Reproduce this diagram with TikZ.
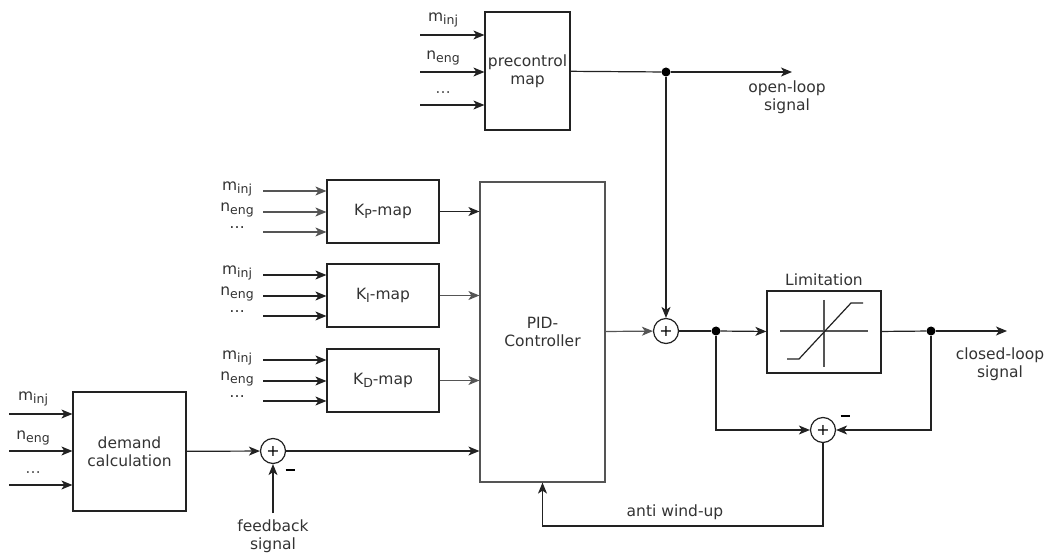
\documentclass[tikz,border=0pt]{standalone}
\usepackage{fontspec}
\setmainfont{DejaVu Sans}
\usetikzlibrary{arrows.meta}
\definecolor{linec}{HTML}{222222}
\definecolor{greyc}{HTML}{555555}
\definecolor{txtc}{HTML}{333333}
\newcommand{\lowsub}[1]{\raisebox{-0.35ex}{\fontsize{12.5}{12.5}\selectfont #1}}

\begin{document}
\begin{tikzpicture}[x=1pt,y=-1pt,
    font=\fontsize{15.5}{18.5}\selectfont,
    blk/.style={draw=linec, line width=1.2pt, align=center, text=txtc,
      inner sep=0pt},
    sum/.style={circle, draw=linec, line width=1.2pt, minimum size=25pt,
      inner sep=0pt, font=\fontsize{16}{16}\selectfont},
    dot/.style={circle, fill=black, minimum size=9pt, inner sep=0pt},
    lbl/.style={text=txtc, align=center, inner sep=1pt},
    sgn/.style={inner sep=0pt},
    ln/.style={draw=linec, line width=1.2pt},
    arr/.style={ln, -{Stealth[length=11pt,width=9pt,inset=3pt]}}]
    \useasboundingbox[fill=white] (0,0) rectangle (1047,553);
    % precontrol map
    \node[blk, minimum width=85pt, minimum height=118pt] (pre) at
    (527.5,71) {precontrol\\map}; \coordinate (p1) at (420,35);
    \coordinate (p2) at (420,72); \coordinate (p3) at (420,105);
    \node[lbl] (pl1) at (443,20) {m\lowsub{inj}}; \node[lbl]
    (pl2) at (443,58) {n\lowsub{eng}}; \node[lbl, text=greyc]
    (pl3) at (443,93) {\dots}; \draw[arr] (p1) -- (p1 -| pre.west);
    \draw[arr] (p2) -- (p2 -| pre.west); \draw[arr] (p3) -- (p3 -|
    pre.west);
    % gain maps
    \node[blk, minimum width=112pt, minimum height=63pt] (Kp) at
    (383,211.5) {K\lowsub{P}-map}; \node[blk, minimum
    width=112pt, minimum height=63pt] (Ki) at (383,295.5)
    {K\lowsub{I}-map}; \node[blk, minimum width=112pt, minimum
    height=63pt] (Kd) at (383,380.5) {K\lowsub{D}-map};
    \coordinate (kp1) at (263,191); \coordinate (kp2) at (263,212);
    \coordinate (kp3) at (263,232); \coordinate (ki1) at (263,275);
    \coordinate (ki2) at (263,296); \coordinate (ki3) at (263,316);
    \coordinate (kd1) at (263,360); \coordinate (kd2) at (263,381);
    \coordinate (kd3) at (263,401);
    \node[lbl] (kpl1) at (237,189) {m\lowsub{inj}}; \node[lbl]
    (kpl2) at (237,210) {n\lowsub{eng}}; \node[lbl] (kpl3) at
    (237,228) {\dots}; \node[lbl] (kil1) at (237,273)
    {m\lowsub{inj}}; \node[lbl] (kil2) at (237,294)
    {n\lowsub{eng}}; \node[lbl] (kil3) at (237,312) {\dots};
    \node[lbl] (kdl1) at (237,358) {m\lowsub{inj}}; \node[lbl]
    (kdl2) at (237,379) {n\lowsub{eng}}; \node[lbl] (kdl3) at
    (237,397) {\dots};
    \draw[arr, draw=greyc] (kp1) -- (kp1 -| Kp.west); \draw[arr,
    draw=greyc] (kp2) -- (kp2 -| Kp.west); \draw[arr, draw=greyc] (kp3)
    -- (kp3 -| Kp.west); \draw[arr] (ki1) -- (ki1 -| Ki.west);
    \draw[arr] (ki2) -- (ki2 -| Ki.west); \draw[arr] (ki3) -- (ki3 -|
    Ki.west); \draw[arr] (kd1) -- (kd1 -| Kd.west); \draw[arr] (kd2) --
    (kd2 -| Kd.west); \draw[arr] (kd3) -- (kd3 -| Kd.west);
    % controller
    \node[blk, draw=greyc, minimum width=125pt, minimum height=300pt]
    (pid) at (542.5,332) {PID-\\Controller}; \draw[arr] (Kp) -- (Kp -|
    pid.west); \draw[arr, draw=greyc] (Ki) -- (Ki -| pid.west);
    \draw[arr, draw=greyc] (Kd) -- (Kd -| pid.west);
    % demand calculation
    \node[blk, minimum width=113pt, minimum height=119pt] (dem) at
    (129.5,451.5) {demand\\calculation}; \coordinate (d1) at (9,414);
    \coordinate (d2) at (9,451); \coordinate (d3) at (9,485);
    \node[lbl] (dl1) at (33,399) {m\lowsub{inj}}; \node[lbl]
    (dl2) at (33,438) {n\lowsub{eng}}; \node[lbl, text=greyc]
    (dl3) at (33,473) {\dots}; \draw[arr] (d1) -- (d1 -| dem.west);
    \draw[arr] (d2) -- (d2 -| dem.west); \draw[arr] (d3) -- (d3 -|
    dem.west);
    \node[sum] (s2) at (273,451) {+}; \node[sgn] (m2) at (290,470)
    {\rule{9pt}{2.6pt}}; \coordinate (fb) at (273,513); \node[lbl] (fbl)
    at (273,536) {feedback\\signal}; \draw[arr] (dem) -- (s2);
    \draw[arr] (fb) -- (s2); \draw[arr] (s2) -- (s2 -| pid.west);
    % open loop and limitation
    \node[dot] (o1) at (666,72) {}; \coordinate (ol) at (792,72);
    \node[lbl] (oll) at (787,97) {open-loop\\signal}; \draw[ln] (pre)
    -- (o1); \draw[arr] (o1) -- (ol);
    \node[sum] (s1) at (666,331) {+}; \draw[arr] (o1) -- (s1);
    \draw[arr, draw=greyc] (pid) -- (s1);
    \node[blk, minimum width=114pt, minimum height=82pt] (lim) at
    (824,332) {}; \node[lbl, above=3pt] (liml) at (lim.north)
    {Limitation}; \draw[greyc, line width=1.2pt] (780,331) -- (868,331)
    (824,300) -- (824,367); \draw[linec, line width=1.2pt] (787,359) --
    (799,359) -- (851,303) -- (863,303);
    \node[dot] (j1) at (716,331) {}; \node[dot] (j2) at (931,331) {};
    \coordinate (cl) at (1007,331); \node[lbl] (cll) at (1000,364)
    {closed-loop\\signal}; \draw[ln] (s1) -- (j1); \draw[arr] (j1) --
    (lim); \draw[ln] (lim) -- (j2); \draw[arr] (j2) -- (cl);
    % anti wind-up
    \node[sum] (s3) at (823,430) {+}; \node[sgn] (m3) at (845,416)
    {\rule{9pt}{2.6pt}}; \draw[arr] (j1) |- (s3); \draw[arr] (j2) |-
    (s3); \coordinate (aw) at (542.5,526); \node[lbl] (awl) at (675,512)
    {anti wind-up}; \draw[arr] (s3) |- (aw) -- (pid);
  \end{tikzpicture}
\end{document}
